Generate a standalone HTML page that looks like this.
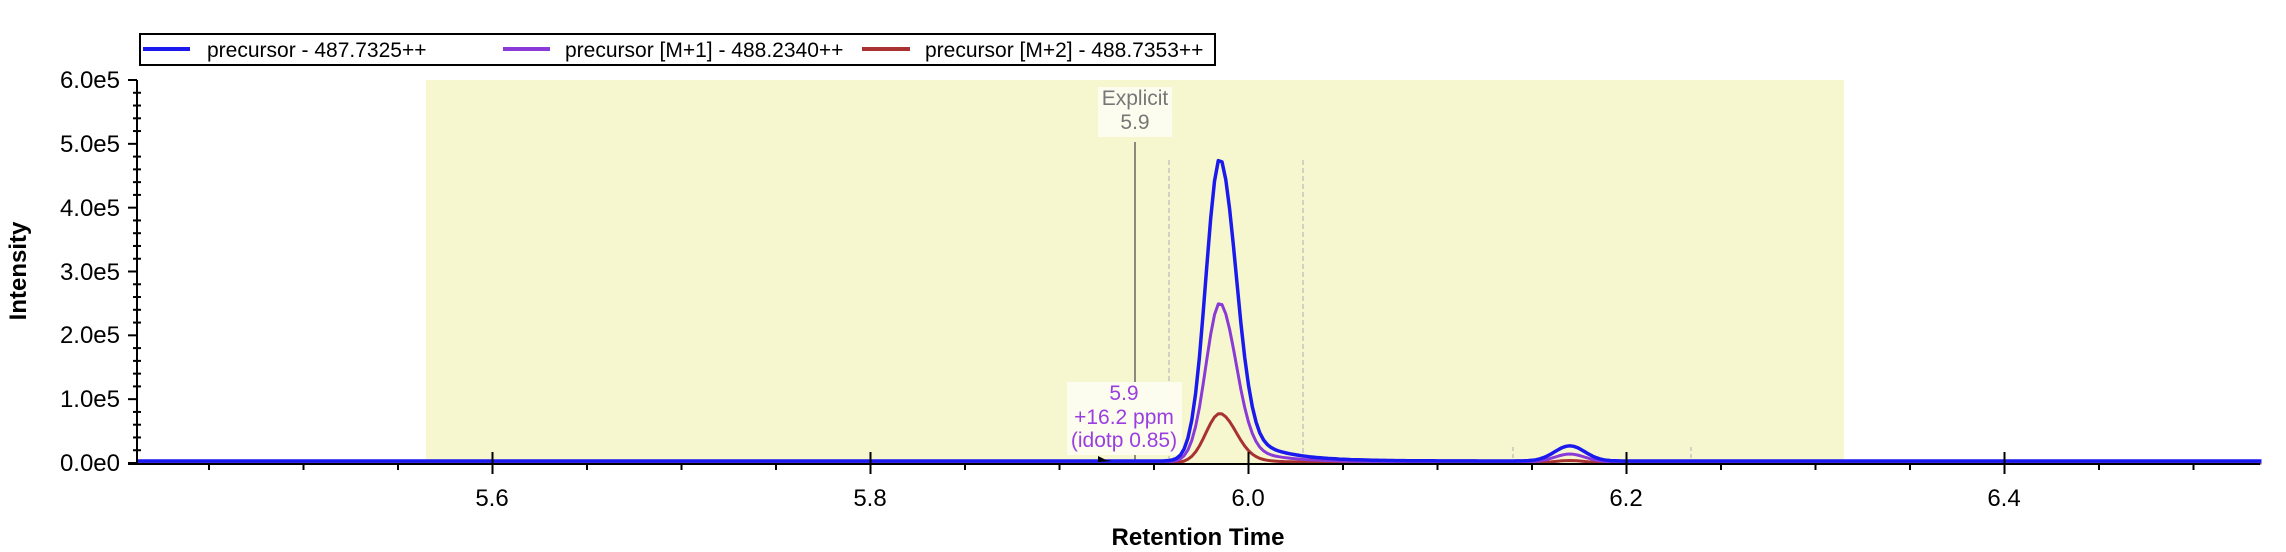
<!DOCTYPE html>
<html><head><meta charset="utf-8"><style>
html,body{margin:0;padding:0;background:#fff;}
svg{display:block;font-family:"Liberation Sans",sans-serif;}
</style></head><body>
<svg id="s" width="2286" height="552" viewBox="0 0 2286 552" xmlns="http://www.w3.org/2000/svg">
<rect x="426" y="80" width="1418" height="383" fill="#f7f7cf"/>
<!-- legend -->
<rect x="140" y="34" width="1075" height="31" fill="#fff" stroke="#000" stroke-width="2"/>
<line x1="143" y1="49" x2="190" y2="49" stroke="#1a1aee" stroke-width="4"/>
<text x="207" y="57" font-size="21">precursor - 487.7325++</text>
<line x1="503" y1="49" x2="550" y2="49" stroke="#8a3ad6" stroke-width="4"/>
<text x="565" y="57" font-size="21">precursor [M+1] - 488.2340++</text>
<line x1="862" y1="49" x2="910" y2="49" stroke="#a83232" stroke-width="4"/>
<text x="925" y="57" font-size="21">precursor [M+2] - 488.7353++</text>
<!-- annotation lines -->
<line x1="1135" y1="142" x2="1135" y2="463" stroke="#666" stroke-width="1.5"/>
<line x1="1169" y1="160" x2="1169" y2="463" stroke="#bbb" stroke-width="1.2" stroke-dasharray="5,3"/>
<line x1="1303" y1="160" x2="1303" y2="463" stroke="#bbb" stroke-width="1.2" stroke-dasharray="5,3"/>
<line x1="1513" y1="447" x2="1513" y2="463" stroke="#bbb" stroke-width="1.2" stroke-dasharray="4,3"/>
<line x1="1691" y1="447" x2="1691" y2="463" stroke="#bbb" stroke-width="1.2" stroke-dasharray="4,3"/>
<rect x="1098" y="87" width="74" height="50" fill="#fdfdef"/>
<text x="1135" y="105" font-size="21" fill="#777" text-anchor="middle">Explicit</text>
<text x="1135" y="129" font-size="21" fill="#777" text-anchor="middle">5.9</text>
<rect x="1067" y="382" width="115" height="73" fill="#fdfdef"/>
<text x="1124" y="400" font-size="21" fill="#9a3ee0" text-anchor="middle">5.9</text>
<text x="1124" y="424" font-size="21" fill="#9a3ee0" text-anchor="middle">+16.2 ppm</text>
<text x="1124" y="447" font-size="21" fill="#9a3ee0" text-anchor="middle">(idotp 0.85)</text>
<g id="curves"></g>
<polygon points="1098,456 1106,460 1112,461 1098,462" fill="#000"/>
<!-- axes -->
<line x1="137" y1="80" x2="137" y2="464" stroke="#000" stroke-width="2"/>
<line x1="128" y1="464" x2="2260" y2="464" stroke="#000" stroke-width="2"/>
<g id="ticks" stroke="#000" stroke-width="2"></g>
<g font-size="24" text-anchor="end">
<text x="120" y="88">6.0e5</text><text x="120" y="152">5.0e5</text><text x="120" y="216">4.0e5</text>
<text x="120" y="280">3.0e5</text><text x="120" y="343">2.0e5</text><text x="120" y="407">1.0e5</text>
<text x="120" y="471">0.0e0</text>
</g>
<g font-size="24" text-anchor="middle">
<text x="492" y="506">5.6</text><text x="870" y="506">5.8</text><text x="1248" y="506">6.0</text>
<text x="1626" y="506">6.2</text><text x="2004" y="506">6.4</text>
</g>
<text x="1198" y="545" font-size="24" font-weight="bold" text-anchor="middle">Retention Time</text>
<text transform="translate(26,271) rotate(-90)" font-size="24" font-weight="bold" text-anchor="middle">Intensity</text>
</svg>
<script>
var t=document.getElementById("ticks"),h="";
for(var i=0;i<=30;i++){var y=80+i*383/30;var maj=(i%5==0);h+='<line x1="'+(maj?128:133)+'" y1="'+y+'" x2="'+(maj?137:141)+'" y2="'+y+'"/>';}
for(var k=-4;k<=20;k++){var x=492.5+k*94.5;if(x<140||x>2258)continue;var maj=(k%4==0);
h+= maj?'<line x1="'+x+'" y1="452" x2="'+x+'" y2="474"/>':'<line x1="'+x+'" y1="464" x2="'+x+'" y2="470"/>';}
t.innerHTML=h;
function X(rt){return 492.5+(rt-5.6)*1890;}
function Y(v){return 463-v*63.8/1e5;}
function shape(rt,A){var c=5.985,v;
 if(rt<c) v=A*Math.exp(-Math.pow((rt-c)/0.0075,2)/2);
 else v=A*(0.85*Math.exp(-Math.pow((rt-c)/0.0085,2)/2)+0.15*Math.exp(-(rt-c)/0.02));
 if(rt<c-0.03) v=0;
 v+=A*0.05*Math.exp(-Math.pow((rt-6.17)/0.008,2)/2);
 return v;}
var g=document.getElementById("curves"),out="";
[[0.78e5,"#a83232",0,3],[2.5e5,"#8a3ad6",1,3],[4.75e5,"#1a1aee",2,3.5]].forEach(function(s){
 var d="";for(var rt=5.412;rt<=6.536;rt+=0.002){var v=shape(rt,s[0]);d+=(d?"L":"M")+X(rt).toFixed(1)+","+(Y(v)-s[2]).toFixed(1);}
 out+='<path d="'+d+'" fill="none" stroke="'+s[1]+'" stroke-width="'+s[3]+'" stroke-linejoin="round"/>';});
g.innerHTML=out;
</script>
</body></html>
